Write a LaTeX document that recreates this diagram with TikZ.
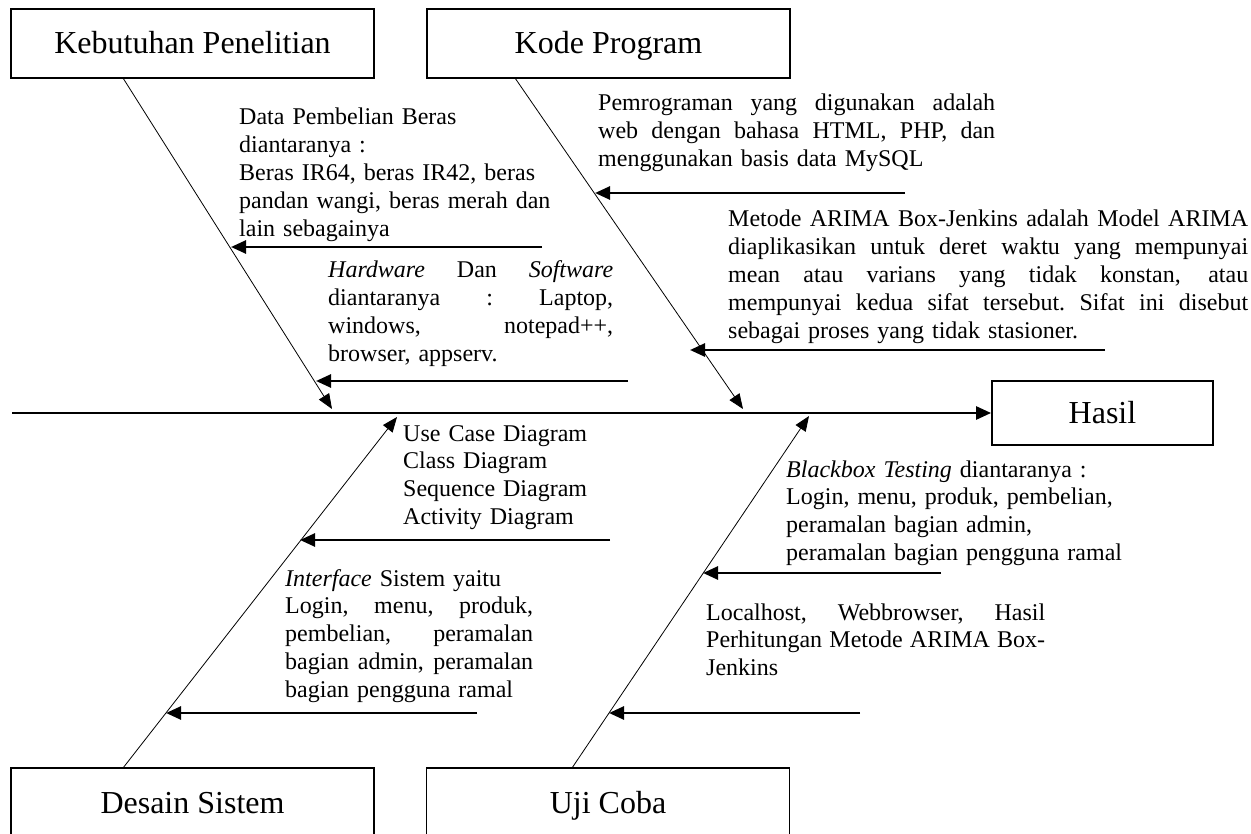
\documentclass[tikz,border=0pt]{standalone}
\usepackage{fontspec}
\setmainfont{Liberation Serif}
\usetikzlibrary{arrows.meta}
\tikzset{
  mybox/.style={draw,line width=1.8pt,minimum width=363pt,minimum height=69pt,inner sep=0pt,
    text height=26pt,text depth=5pt,font=\fontsize{32}{36}\selectfont},
  mynote/.style={anchor=base west,inner sep=0pt,align=left,font=\fontsize{24}{27.8}\selectfont},
  mybone/.style={line width=0.8pt,-{Triangle[length=15pt,width=12pt]}},
  myarrow/.style={line width=2.6pt,-{Triangle[length=15pt,width=13pt]}},
}
% justified line of a given width
\newcommand\jl[2]{\makebox[#1][s]{\spaceskip=.25em plus 1fil\xspaceskip=.25em plus 1fil\relax#2}}

\begin{document}
\begin{tikzpicture}[x=1pt,y=-1pt]
\clip (0,0) rectangle (1251,834);

% boxes
\node[mybox] (kebutuhan) at (192.5,43.5) {Kebutuhan Penelitian};
\node[mybox] (kode) at (608.5,43.5) {Kode Program};
\node[mybox,minimum width=221pt,minimum height=64pt] (hasil) at (1102.5,413) {Hasil};
\node[mybox] (desain) at (192.5,802.5) {Desain Sistem};
\node[mybox] (uji) at (608,802.5) {Uji Coba};

% spine and bones
\coordinate (spine0) at (12,413);
\draw[myarrow] (spine0) -- (hasil.west);

\coordinate (kb1) at (123,78);
\coordinate (kb2) at (332,409);
\coordinate (kp1) at (515,78);
\coordinate (kp2) at (743,409);
\coordinate (ds1) at (123,768);
\coordinate (ds2) at (397,417);
\coordinate (uc1) at (572,768);
\coordinate (uc2) at (809,416);
\draw[mybone] (kb1) -- (kb2);
\draw[mybone] (kp1) -- (kp2);
\draw[mybone] (ds1) -- (ds2);
\draw[mybone] (uc1) -- (uc2);

% notes
\node[mynote,text width=320pt] (databeras) at (239,125) {Data Pembelian Beras\\
diantaranya :\\
Beras IR64, beras IR42, beras\\
pandan wangi, beras merah dan\\
lain sebagainya};
\node[mynote,text width=285pt] (hardware) at (328,278) {\jl{285pt}{\textit{Hardware} Dan \textit{Software}}\\
\jl{285pt}{diantaranya : Laptop,}\\
\jl{285pt}{windows, notepad++,}\\
browser, appserv.};
\node[mynote,text width=397pt] (pemrograman) at (598,111) {\jl{397pt}{Pemrograman yang digunakan adalah}\\
\jl{397pt}{web dengan bahasa HTML, PHP, dan}\\
menggunakan basis data MySQL};
\node[mynote,text width=520pt] (arima) at (728,227) {\jl{520pt}{Metode ARIMA Box-Jenkins adalah Model ARIMA}\\
\jl{520pt}{diaplikasikan untuk deret waktu yang mempunyai}\\
\jl{520pt}{mean atau varians yang tidak konstan, atau}\\
\jl{520pt}{mempunyai kedua sifat tersebut. Sifat ini disebut}\\
sebagai proses yang tidak stasioner.};
\node[mynote,text width=260pt] (diagram) at (403,441) {Use Case Diagram\\
Class Diagram\\
Sequence Diagram\\
Activity Diagram};
\node[mynote,text width=248pt] (interface) at (285,586) {\textit{Interface} Sistem yaitu\\
\jl{248pt}{Login, menu, produk,}\\
\jl{248pt}{pembelian, peramalan}\\
\jl{248pt}{bagian admin, peramalan}\\
bagian pengguna ramal};
\node[mynote,text width=400pt] (blackbox) at (786,477) {\textit{Blackbox Testing} diantaranya :\\
Login, menu, produk, pembelian,\\
peramalan bagian admin,\\
peramalan bagian pengguna ramal};
\node[mynote,text width=339pt] (localhost) at (706,620) {\jl{339pt}{Localhost, Webbrowser, Hasil}\\
\jl{339pt}{Perhitungan Metode ARIMA Box-}\\
Jenkins};

% branch arrows
\coordinate (a1) at (542,247);   \coordinate (a1t) at (231,247);
\coordinate (a2) at (628,381);   \coordinate (a2t) at (316,381);
\coordinate (a3) at (905,193);   \coordinate (a3t) at (595,193);
\coordinate (a4) at (1105,350);  \coordinate (a4t) at (690,350);
\coordinate (a5) at (610,540);   \coordinate (a5t) at (300,540);
\coordinate (a6) at (477,713);   \coordinate (a6t) at (166,713);
\coordinate (a7) at (941,573);   \coordinate (a7t) at (703,573);
\coordinate (a8) at (860,713);   \coordinate (a8t) at (609,713);
\foreach \i in {1,...,8}
  \draw[myarrow] (a\i) -- (a\i t);
\end{tikzpicture}
\end{document}
